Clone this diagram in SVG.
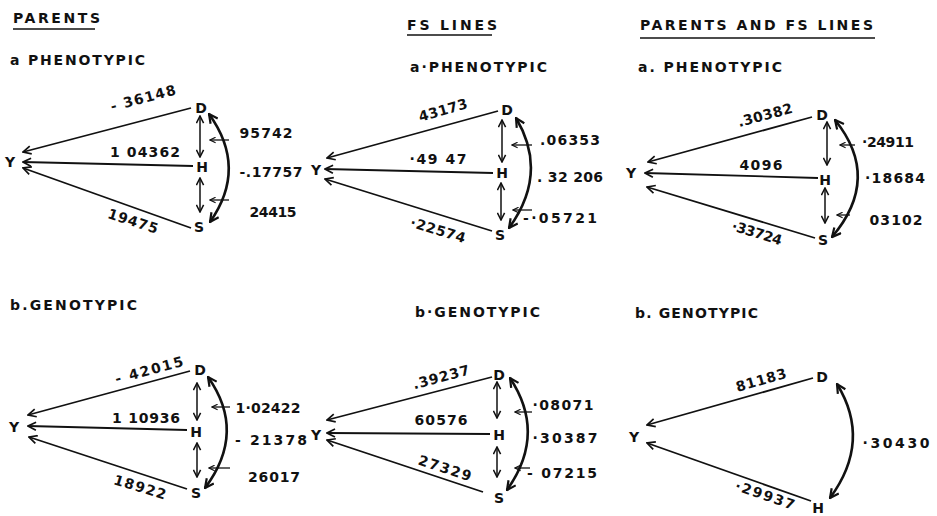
<svg xmlns="http://www.w3.org/2000/svg" width="937" height="516" viewBox="0 0 937 516">
  <style>
    text { font-family: "DejaVu Sans", "Liberation Sans", sans-serif; fill: #111; }
    .head { font-size: 14px; font-weight: bold; }
    .node { font-size: 14px; font-weight: bold; text-anchor: middle; }
    .lbl { font-size: 14px; font-weight: bold; text-anchor: middle; }
    .e { fill: none; stroke: #111; stroke-width: 1.8; marker-end: url(#ah); }
    .c { fill: none; stroke: #111; stroke-width: 2.6; marker-start: url(#ahb); marker-end: url(#ahb); }
    .v { fill: none; stroke: #111; stroke-width: 1.5; marker-start: url(#ahv); marker-end: url(#ahv); }
    .s { fill: none; stroke: #111; stroke-width: 1.3; marker-end: url(#ahs); }
    .u { fill: none; stroke: #111; stroke-width: 1.6; }
  </style>
  <defs>
    <marker id="ah" viewBox="0 0 10 10" refX="9" refY="5" markerWidth="10" markerHeight="10" markerUnits="userSpaceOnUse" orient="auto-start-reverse">
      <path d="M1,1 L9,5 L1,9" fill="none" stroke="#111" stroke-width="1.7"/>
    </marker>
    <marker id="ahv" viewBox="0 0 10 10" refX="9" refY="5" markerWidth="9" markerHeight="9" markerUnits="userSpaceOnUse" orient="auto-start-reverse">
      <path d="M1,1 L9,5 L1,9" fill="none" stroke="#111" stroke-width="1.7"/>
    </marker>
    <marker id="ahb" viewBox="0 0 10 10" refX="9" refY="5" markerWidth="11" markerHeight="11" markerUnits="userSpaceOnUse" orient="auto-start-reverse">
      <path d="M1,1 L9,5 L1,9" fill="none" stroke="#111" stroke-width="2"/>
    </marker>
    <marker id="ahs" viewBox="0 0 10 10" refX="9" refY="5" markerWidth="7" markerHeight="7" markerUnits="userSpaceOnUse" orient="auto">
      <path d="M1,1 L9,5 L1,9" fill="none" stroke="#111" stroke-width="1.6"/>
    </marker>
  </defs>

  <!-- column and section headings -->
  <g id="titles">
    <text class="head" x="13" y="23" textLength="87" lengthAdjust="spacing">PARENTS</text>
    <line class="u" x1="13" y1="29" x2="95" y2="29"/>
    <text class="head" x="10" y="65" textLength="135" lengthAdjust="spacing">a PHENOTYPIC</text>
    <text class="head" x="10" y="310" textLength="127" lengthAdjust="spacing">b.GENOTYPIC</text>

    <text class="head" x="407" y="30" textLength="90" lengthAdjust="spacing">FS LINES</text>
    <line class="u" x1="407" y1="35" x2="492" y2="35"/>
    <text class="head" x="410" y="72" textLength="137" lengthAdjust="spacing">a·PHENOTYPIC</text>
    <text class="head" x="415" y="317" textLength="125" lengthAdjust="spacing">b·GENOTYPIC</text>

    <text class="head" x="640" y="30" textLength="233" lengthAdjust="spacing">PARENTS AND FS LINES</text>
    <line class="u" x1="640" y1="38" x2="875" y2="38"/>
    <text class="head" x="638" y="72" textLength="144" lengthAdjust="spacing">a. PHENOTYPIC</text>
    <text class="head" x="635" y="318" textLength="123" lengthAdjust="spacing">b. GENOTYPIC</text>
  </g>

  <!-- path arrows, correlation arcs and coefficients -->
  <g id="connectors">
    <!-- Parents, phenotypic -->
    <path class="e" d="M191,108 L23,152"/>
    <path class="e" d="M193,166 L23,162"/>
    <path class="e" d="M191,228 L23,168"/>
    <path class="v" d="M200,116 L200,157"/>
    <path class="v" d="M200,178 L200,212"/>
    <path class="c" d="M209,114 Q248,168 210,222"/>
    <path class="s" d="M229,140 L210,140"/>
    <path class="s" d="M229,200 L210,200"/>
    <text class="lbl" transform="translate(143,98) rotate(-15)" y="5" textLength="67" lengthAdjust="spacing">- 36148</text>
    <text class="lbl" x="145" y="157" textLength="70" lengthAdjust="spacing">1 04362</text>
    <text class="lbl" transform="translate(133,221) rotate(18)" y="5" textLength="52" lengthAdjust="spacing">19475</text>
    <text class="lbl" x="266" y="138" textLength="53" lengthAdjust="spacing">95742</text>
    <text class="lbl" x="271" y="177" textLength="63" lengthAdjust="spacing">-.17757</text>
    <text class="lbl" x="273" y="217" textLength="47" lengthAdjust="spacing">24415</text>

    <!-- Parents, genotypic -->
    <path class="e" d="M190,371 L28,415"/>
    <path class="e" d="M187,430 L28,426"/>
    <path class="e" d="M187,489 L29,437"/>
    <path class="v" d="M197,383 L197,420"/>
    <path class="v" d="M197,443 L197,477"/>
    <path class="c" d="M208,377 Q247,432 205,488"/>
    <path class="s" d="M230,407 L212,407"/>
    <path class="s" d="M230,468 L209,468"/>
    <text class="lbl" transform="translate(149,370) rotate(-15)" y="5" textLength="70" lengthAdjust="spacing">- 42015</text>
    <text class="lbl" x="146" y="423" textLength="68" lengthAdjust="spacing">1 10936</text>
    <text class="lbl" transform="translate(140,487) rotate(17)" y="5" textLength="54" lengthAdjust="spacing">18922</text>
    <text class="lbl" x="268" y="413" textLength="65" lengthAdjust="spacing">1·02422</text>
    <text class="lbl" x="271" y="445" textLength="72" lengthAdjust="spacing">- 21378</text>
    <text class="lbl" x="274" y="482" textLength="52" lengthAdjust="spacing">26017</text>

    <!-- FS lines, phenotypic -->
    <path class="e" d="M498,111 L327,158"/>
    <path class="e" d="M493,173 L325,169"/>
    <path class="e" d="M492,231 L325,179"/>
    <path class="v" d="M502,120 L502,162"/>
    <path class="v" d="M501,183 L501,220"/>
    <path class="c" d="M516,118 Q549,173 509,228"/>
    <path class="s" d="M532,145 L512,145"/>
    <path class="s" d="M532,210 L513,210"/>
    <text class="lbl" transform="translate(443,110) rotate(-16)" y="5" textLength="50" lengthAdjust="spacing">43173</text>
    <text class="lbl" x="438" y="164" textLength="57" lengthAdjust="spacing">·49 47</text>
    <text class="lbl" transform="translate(438,230) rotate(17)" y="5" textLength="57" lengthAdjust="spacing">·22574</text>
    <text class="lbl" x="570" y="145" textLength="60" lengthAdjust="spacing">.06353</text>
    <text class="lbl" x="570" y="182" textLength="66" lengthAdjust="spacing">. 32 206</text>
    <text class="lbl" x="560" y="223" textLength="74" lengthAdjust="spacing">-·05721</text>

    <!-- FS lines, genotypic -->
    <path class="e" d="M492,377 L327,420"/>
    <path class="e" d="M490,434 L327,433"/>
    <path class="e" d="M483,492 L327,440"/>
    <path class="v" d="M497,382 L497,418"/>
    <path class="v" d="M497,447 L497,477"/>
    <path class="c" d="M510,378 Q547,434 507,490"/>
    <path class="s" d="M532,412 L515,412"/>
    <path class="s" d="M530,468 L515,468"/>
    <text class="lbl" transform="translate(441,377) rotate(-15)" y="5" textLength="58" lengthAdjust="spacing">.39237</text>
    <text class="lbl" x="441" y="425" textLength="53" lengthAdjust="spacing">60576</text>
    <text class="lbl" transform="translate(445,468) rotate(18)" y="5" textLength="55" lengthAdjust="spacing">27329</text>
    <text class="lbl" x="563" y="410" textLength="61" lengthAdjust="spacing">·08071</text>
    <text class="lbl" x="565" y="443" textLength="65" lengthAdjust="spacing">·30387</text>
    <text class="lbl" x="562" y="478" textLength="70" lengthAdjust="spacing">- 07215</text>

    <!-- Parents and FS lines, phenotypic -->
    <path class="e" d="M812,117 L648,162"/>
    <path class="e" d="M818,178 L645,173"/>
    <path class="e" d="M815,238 L647,187"/>
    <path class="v" d="M827,122 L827,165"/>
    <path class="v" d="M825,188 L825,223"/>
    <path class="c" d="M835,120 Q882,178 832,237"/>
    <path class="s" d="M855,145 L840,145"/>
    <path class="s" d="M850,215 L837,215"/>
    <text class="lbl" transform="translate(765,115) rotate(-15)" y="5" textLength="56" lengthAdjust="spacing">.30382</text>
    <text class="lbl" x="761" y="170" textLength="43" lengthAdjust="spacing">4096</text>
    <text class="lbl" transform="translate(757,233) rotate(17)" y="5" textLength="52" lengthAdjust="spacing">·33724</text>
    <text class="lbl" x="888" y="147" textLength="52" lengthAdjust="spacing">·24911</text>
    <text class="lbl" x="895" y="183" textLength="60" lengthAdjust="spacing">·18684</text>
    <text class="lbl" x="896" y="225" textLength="53" lengthAdjust="spacing">03102</text>

    <!-- Parents and FS lines, genotypic -->
    <path class="e" d="M813,378 L647,425"/>
    <path class="e" d="M811,501 L647,443"/>
    <path class="c" d="M837,384 Q872,441 830,498"/>
    <text class="lbl" transform="translate(761,380) rotate(-16)" y="5" textLength="52" lengthAdjust="spacing">81183</text>
    <text class="lbl" transform="translate(765,495) rotate(19)" y="5" textLength="62" lengthAdjust="spacing">·29937</text>
    <text class="lbl" x="896" y="448" textLength="67" lengthAdjust="spacing">·30430</text>
  </g>

  <!-- variables: Y = yield, D, H, S -->
  <g id="p1a-Y"><text class="node" x="10" y="167">Y</text></g>
  <g id="p1a-D"><text class="node" x="201" y="113">D</text></g>
  <g id="p1a-H"><text class="node" x="202" y="172">H</text></g>
  <g id="p1a-S"><text class="node" x="199" y="232">S</text></g>

  <g id="p1b-Y"><text class="node" x="14" y="432">Y</text></g>
  <g id="p1b-D"><text class="node" x="200" y="375">D</text></g>
  <g id="p1b-H"><text class="node" x="196" y="437">H</text></g>
  <g id="p1b-S"><text class="node" x="196" y="498">S</text></g>

  <g id="p2a-Y"><text class="node" x="316" y="175">Y</text></g>
  <g id="p2a-D"><text class="node" x="507" y="115">D</text></g>
  <g id="p2a-H"><text class="node" x="502" y="178">H</text></g>
  <g id="p2a-S"><text class="node" x="500" y="240">S</text></g>

  <g id="p2b-Y"><text class="node" x="316" y="440">Y</text></g>
  <g id="p2b-D"><text class="node" x="499" y="380">D</text></g>
  <g id="p2b-H"><text class="node" x="499" y="440">H</text></g>
  <g id="p2b-S"><text class="node" x="499" y="503">S</text></g>

  <g id="p3a-Y"><text class="node" x="631" y="178">Y</text></g>
  <g id="p3a-D"><text class="node" x="822" y="120">D</text></g>
  <g id="p3a-H"><text class="node" x="825" y="185">H</text></g>
  <g id="p3a-S"><text class="node" x="823" y="245">S</text></g>

  <g id="p3b-Y"><text class="node" x="634" y="442">Y</text></g>
  <g id="p3b-D"><text class="node" x="822" y="382">D</text></g>
  <g id="p3b-H"><text class="node" x="818" y="513">H</text></g>
</svg>
